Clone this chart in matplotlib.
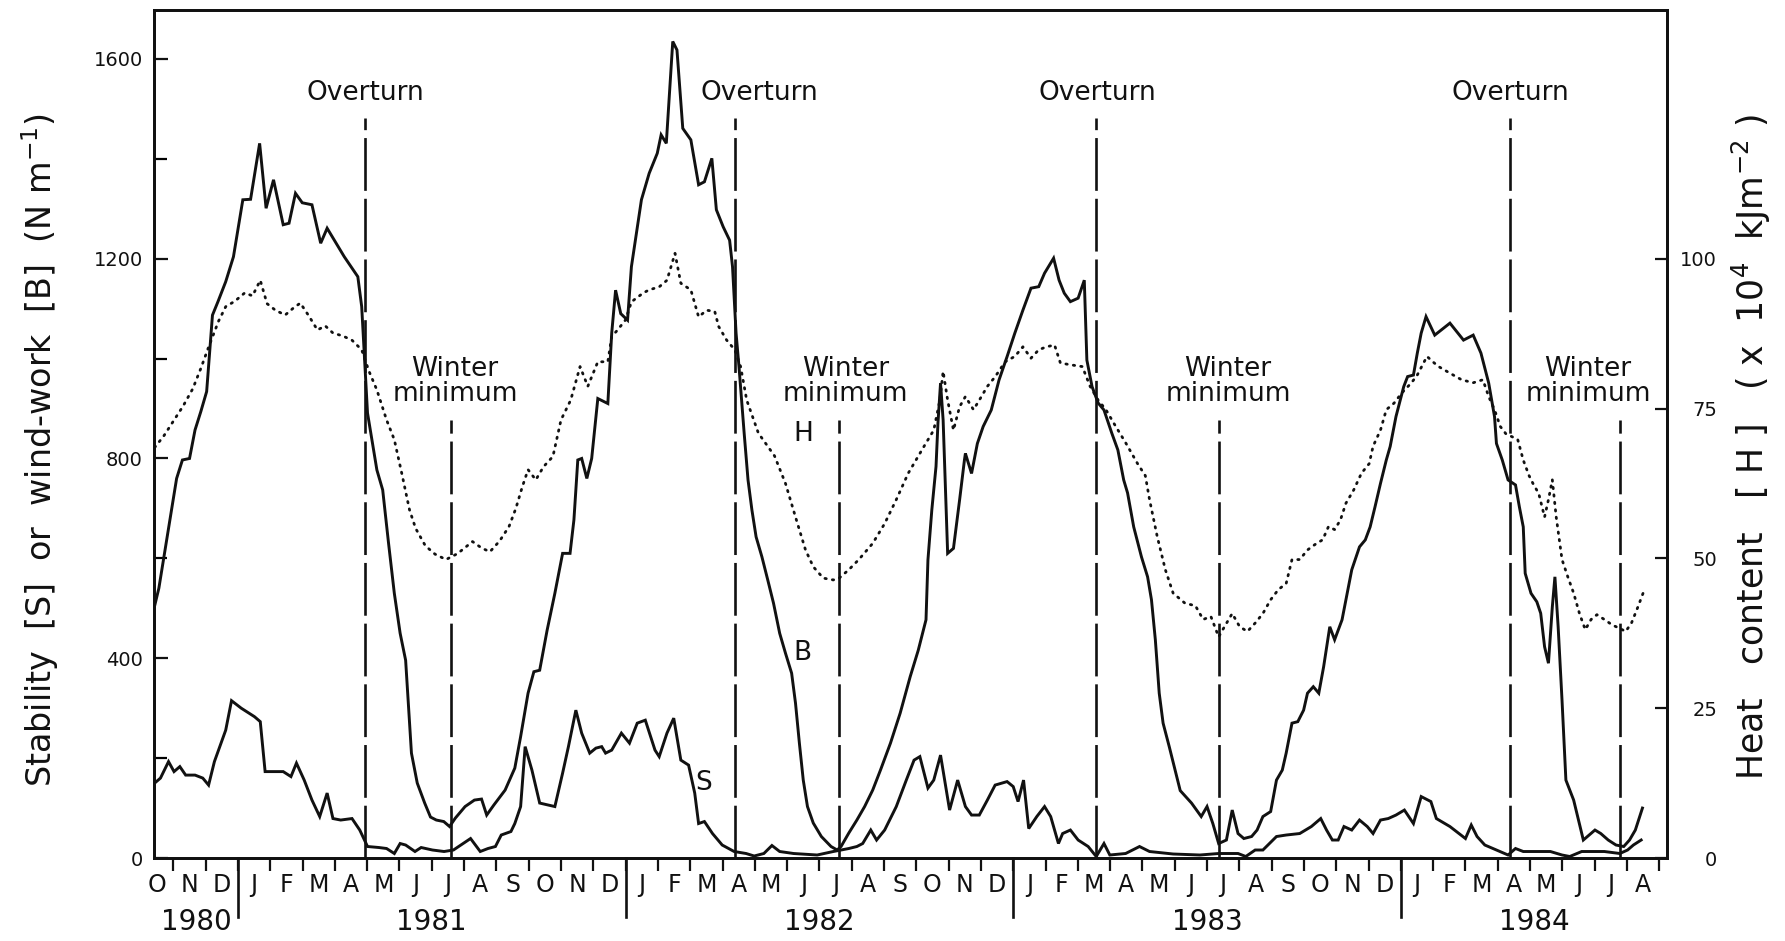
import numpy as np
import matplotlib.pyplot as plt
import matplotlib.transforms as mtransforms
from matplotlib.ticker import FixedLocator

plt.rcParams['font.family'] = ['DejaVu Sans']
plt.rcParams['mathtext.default'] = 'regular'

INK = '#111111'

# time is in months since 1 October 1980
b_t = [0.42, 0.55, 0.70, 0.90, 1.10, 1.28, 1.50, 1.67, 1.85, 2.03, 2.21, 2.38, 2.62, 2.86,
       3.15, 3.39, 3.67, 3.87, 4.10, 4.40, 4.58, 4.78, 4.99, 5.29, 5.56, 5.76, 6.29, 6.71,
       6.83, 7.01, 7.30, 7.48, 7.66, 7.84, 8.02, 8.19, 8.37, 8.55, 8.78, 8.96, 9.14, 9.37,
       9.55, 9.73, 10.03, 10.32, 10.54, 10.70, 10.92, 11.27, 11.57, 11.75, 11.98, 12.16,
       12.34, 12.57, 12.81, 13.05, 13.28, 13.40, 13.52, 13.64, 13.80, 13.95, 14.14, 14.45,
       14.57, 14.69, 14.85, 15.06, 15.18, 15.49, 15.73, 15.98, 16.10, 16.26, 16.46, 16.59,
       16.77, 17.02, 17.26, 17.44, 17.67, 17.81, 18.02, 18.22, 18.31, 18.42, 18.51, 18.67,
       18.79, 18.91, 19.04, 19.22, 19.40, 19.58, 19.77, 19.95, 20.14, 20.26, 20.38, 20.50,
       20.63, 20.81, 21.06, 21.36, 21.55, 21.67, 21.91, 22.16, 22.40, 22.65, 22.89, 23.20,
       23.50, 23.81, 24.06, 24.30, 24.36, 24.48, 24.61, 24.67, 24.75, 24.83, 24.97, 25.15,
       25.34, 25.49, 25.52, 25.71, 25.89, 26.07, 26.32, 26.56, 26.81, 27.05, 27.30, 27.55,
       27.79, 27.97, 28.25, 28.42, 28.58, 28.77, 29.01, 29.20, 29.28, 29.44, 29.63, 29.81,
       30.05, 30.24, 30.42, 30.54, 30.73, 30.97, 31.16, 31.28, 31.40, 31.52, 31.64, 31.83,
       32.01, 32.17, 32.52, 32.82, 33.00, 33.18, 33.36, 33.60, 33.78, 33.96, 34.14, 34.38,
       34.55, 34.73, 34.97, 35.15, 35.33, 35.45, 35.63, 35.81, 35.99, 36.11, 36.29, 36.46,
       36.61, 36.80, 36.95, 37.18, 37.30, 37.48, 37.72, 37.90, 38.05, 38.20, 38.37, 38.55,
       38.67, 38.85, 39.09, 39.21, 39.39, 39.51, 39.63, 39.78, 40.05, 40.52, 40.94, 41.24,
       41.48, 41.72, 41.90, 41.96, 42.14, 42.32, 42.55, 42.67, 42.79, 42.85, 43.03, 43.21,
       43.33, 43.45, 43.57, 43.69, 43.77, 43.87, 43.99, 44.11, 44.35, 44.65, 45.01, 45.19,
       45.42, 45.66, 45.90, 46.08, 46.26, 46.48]
b_val = [505, 540, 600, 680, 760, 797, 800, 857, 894, 934, 1087, 1114, 1154, 1204,
         1318, 1319, 1431, 1301, 1358, 1268, 1271, 1331, 1312, 1308, 1231, 1261, 1204, 1164,
         1104, 891, 777, 737, 631, 530, 450, 396, 210, 150, 110, 82, 76, 73,
         63, 80, 103, 116, 118, 86, 106, 136, 180, 243, 330, 373,
         376, 456, 530, 610, 610, 677, 797, 800, 760, 800, 920, 910,
         1051, 1137, 1090, 1077, 1184, 1318, 1371, 1411, 1448, 1431, 1635, 1618,
         1461, 1438, 1348, 1354, 1401, 1298, 1264, 1237, 1184, 1051, 984, 851,
         757, 697, 643, 603, 557, 510, 450, 410, 370, 310, 230, 156,
         103, 70, 43, 23, 16, 23, 50, 76, 103, 136, 176, 230,
         290, 363, 416, 477, 597, 697, 784, 871, 951, 877, 610, 620,
         717, 797, 810, 770, 830, 864, 897, 957, 1004, 1051, 1097, 1141,
         1144, 1171, 1201, 1157, 1131, 1114, 1121, 1157, 997, 944, 911, 897,
         851, 817, 757, 731, 663, 603, 563, 517, 437, 330, 270, 223,
         176, 135, 110, 83, 103, 69, 29, 36, 96, 49, 39, 43,
         56, 83, 93, 156, 176, 210, 270, 273, 296, 330, 343, 330,
         383, 463, 437, 477, 517, 577, 623, 637, 663, 703, 750, 797,
         824, 884, 944, 964, 967, 1011, 1051, 1084, 1047, 1071, 1037, 1047,
         1011, 951, 884, 830, 797, 757, 747, 703, 663, 570, 530, 513,
         490, 423, 390, 503, 563, 463, 316, 156, 116, 36, 56, 49,
         36, 26, 23, 36, 56, 100]

s_t = [0.42, 0.60, 0.85, 1.02, 1.20, 1.38, 1.67, 1.91, 2.09, 2.27, 2.62, 2.80, 3.10, 3.51,
       3.69, 3.84, 4.16, 4.40, 4.64, 4.81, 5.05, 5.29, 5.53, 5.76, 5.94, 6.18, 6.53, 6.77,
       7.01, 7.36, 7.60, 7.84, 8.02, 8.19, 8.48, 8.67, 9.02, 9.38, 9.67, 9.97, 10.20, 10.50,
       10.74, 10.97, 11.15, 11.45, 11.57, 11.75, 11.89, 12.10, 12.34, 12.81, 13.05, 13.23,
       13.46, 13.64, 13.89, 14.08, 14.26, 14.38, 14.57, 14.87, 15.12, 15.36, 15.61, 15.91,
       16.04, 16.28, 16.49, 16.71, 16.95, 17.14, 17.26, 17.44, 17.69, 17.99, 18.36, 18.73,
       18.98, 19.28, 19.53, 19.77, 20.20, 20.93, 21.43, 21.91, 22.16, 22.34, 22.59, 22.77,
       23.02, 23.38, 23.69, 23.93, 24.11, 24.36, 24.54, 24.75, 25.03, 25.28, 25.52, 25.71,
       25.95, 26.20, 26.44, 26.81, 27.00, 27.15, 27.32, 27.48, 27.73, 27.97, 28.16, 28.40,
       28.53, 28.77, 29.01, 29.32, 29.57, 29.81, 29.99, 30.48, 30.91, 31.22, 31.95, 32.78,
       33.36, 33.96, 34.20, 34.49, 34.73, 35.15, 35.45, 35.87, 36.23, 36.52, 36.70, 36.88,
       37.06, 37.24, 37.48, 37.72, 37.96, 38.14, 38.37, 38.61, 38.85, 39.11, 39.39, 39.63,
       39.93, 40.10, 40.52, 41.00, 41.18, 41.36, 41.60, 41.96, 42.32, 42.55, 42.79, 43.63,
       43.99, 44.23, 44.60, 45.30, 45.78, 46.02, 46.20, 46.44]
s_val = [150, 160, 193, 173, 183, 166, 166, 160, 146, 193, 256, 315, 300, 283,
         273, 173, 173, 173, 163, 190, 156, 116, 83, 130, 79, 76, 79, 56,
         23, 21, 19, 9, 29, 26, 13, 21, 16, 13, 16, 29, 39, 13,
         19, 23, 46, 53, 69, 103, 223, 176, 110, 103, 170, 223,
         296, 250, 210, 220, 223, 210, 216, 250, 230, 270, 276, 216,
         203, 250, 280, 196, 186, 130, 69, 73, 49, 26, 13, 9,
         4, 9, 25, 13, 9, 6, 13, 19, 23, 29, 56, 36,
         56, 103, 156, 196, 203, 140, 156, 206, 96, 156, 103, 86,
         86, 116, 146, 153, 143, 113, 156, 59, 83, 103, 83, 29,
         49, 56, 36, 23, 3, 29, 6, 9, 23, 13, 8, 6,
         9, 9, 3, 16, 16, 43, 46, 49, 63, 79, 56, 36,
         36, 63, 56, 76, 63, 49, 76, 79, 86, 96, 69, 123,
         113, 79, 63, 39, 66, 43, 26, 16, 6, 19, 13, 13,
         6, 3, 13, 13, 9, 16, 26, 36]

h_t = [0.42, 0.70, 1.00, 1.30, 1.60, 1.85, 2.10, 2.40, 2.62, 2.90, 3.21, 3.45, 3.69, 3.90,
       4.16, 4.46, 4.70, 4.93, 5.20, 5.46, 5.70, 5.94, 6.25, 6.53, 6.83, 7.05, 7.30, 7.60,
       7.84, 8.07, 8.31, 8.50, 8.80, 9.10, 9.44, 9.80, 10.26, 10.55, 10.80, 11.10, 11.39,
       11.60, 11.80, 11.98, 12.22, 12.46, 12.75, 13.00, 13.30, 13.59, 13.83, 14.14, 14.45,
       14.57, 14.75, 15.00, 15.18, 15.55, 15.73, 16.04, 16.28, 16.53, 16.71, 17.02, 17.26,
       17.51, 17.76, 17.88, 18.13, 18.38, 18.56, 18.75, 19.11, 19.61, 19.95, 20.26, 20.57,
       20.81, 21.12, 21.43, 21.61, 21.91, 22.22, 22.65, 23.02, 23.38, 23.75, 24.24, 24.54,
       24.73, 24.83, 24.97, 25.15, 25.34, 25.52, 25.77, 25.95, 26.20, 26.44, 26.75, 27.05,
       27.30, 27.55, 27.79, 28.03, 28.28, 28.46, 28.77, 29.14, 29.38, 29.63, 29.87, 30.12,
       30.49, 30.85, 31.09, 31.22, 31.46, 31.71, 31.95, 32.32, 32.64, 32.88, 33.12, 33.36,
       33.54, 33.78, 34.01, 34.25, 34.49, 34.73, 34.97, 35.21, 35.45, 35.63, 35.87, 36.11,
       36.34, 36.58, 36.76, 36.95, 37.13, 37.30, 37.54, 37.78, 38.02, 38.14, 38.37, 38.55,
       38.79, 39.03, 39.33, 39.51, 39.81, 39.99, 40.17, 40.52, 40.88, 41.24, 41.54, 41.72,
       41.90, 42.08, 42.25, 42.44, 42.62, 42.79, 42.97, 43.09, 43.27, 43.45, 43.57, 43.69,
       43.81, 43.99, 44.17, 44.35, 44.53, 44.71, 44.89, 45.07, 45.30, 45.54, 45.78, 45.96,
       46.14, 46.34, 46.50]
# heat content, x 10^4 kJ m^-2
h_val = [68.5, 70.4, 72.9, 75.4, 78.3, 81.7, 85.4, 89.6, 92.0, 92.9, 94.3, 93.8, 96.4, 92.5,
         91.4, 90.6, 91.7, 92.6, 90.4, 88.1, 88.8, 87.6, 87.1, 86.4, 84.8, 81.3, 78.1, 73.1,
         69.8, 64.2, 58.1, 55.0, 52.1, 50.7, 49.8, 50.8, 52.8, 51.7, 51.1, 52.9, 55.3,
         58.3, 61.9, 64.8, 63.1, 65.3, 67.0, 73.1, 76.4, 82.0, 78.7, 82.8, 82.8,
         87.0, 88.1, 89.8, 92.8, 94.3, 94.8, 95.3, 96.4, 100.9, 95.9, 94.8, 90.3,
         91.4, 91.2, 88.7, 86.4, 84.8, 82.0, 76.4, 70.9, 67.1, 62.5, 56.9, 51.4,
         48.6, 46.7, 46.4, 46.7, 48.1, 49.8, 52.5, 55.8, 59.8, 64.2, 68.7, 71.4,
         76.4, 81.2, 76.4, 71.4, 75.3, 77.0, 74.8, 76.4, 78.7, 80.3, 82.8, 83.7,
         85.3, 83.4, 84.8, 85.3, 85.6, 82.6, 82.3, 82.0, 78.7, 76.4, 74.8, 72.5,
         69.2, 65.8, 63.8, 59.8, 53.6, 48.1, 44.2, 42.5, 42.1, 39.8, 40.3, 36.9,
         38.6, 40.8, 38.6, 37.8, 39.2, 40.8, 43.1, 44.8, 45.8, 49.8, 49.8, 51.4,
         52.3, 53.1, 55.3, 54.8, 56.4, 59.2, 61.4, 64.2, 65.8, 68.7, 71.4, 74.8,
         75.9, 77.6, 79.3, 80.6, 83.7, 82.8, 82.0, 80.9, 79.8, 79.3, 79.8, 77.0,
         74.8, 72.0, 70.8, 70.3, 69.8, 66.4, 63.8, 62.5, 60.8, 56.9, 59.8, 63.1,
         56.9, 49.8, 46.9, 44.2, 40.8, 38.1, 39.8, 40.6, 39.8, 38.9, 38.3, 37.8,
         39.2, 41.9, 44.2]

overturn_t = [6.93, 18.38, 29.56, 42.38]
winter_min_t = [9.61, 21.60, 33.36, 45.78]
month_letters = list('OND' + 'JFMAMJJASOND' * 3 + 'JFMAMJJA')
years = ['1980', '1981', '1982', '1983', '1984']

X0, X1 = 0.40, 47.24
YTOP = 1698.0

fig = plt.figure(figsize=(17.85, 9.41), dpi=100)
ax = fig.add_axes([154 / 1785, 1 - 858 / 941, (1667 - 154) / 1785, (858 - 10) / 941])
ax.set_xlim(X0, X1)
ax.set_ylim(0, YTOP)

ax.plot(b_t, b_val, color=INK, lw=2.1, solid_joinstyle='miter')
ax.plot(s_t, s_val, color=INK, lw=2.1, solid_joinstyle='miter')

ax2 = ax.twinx()
ax2.set_ylim(0, YTOP / 12)
ax2.plot(h_t, h_val, color=INK, lw=2.0, linestyle=(0, (0.5, 2.2)), dash_capstyle='round')

# overturn and winter-minimum markers
for t in overturn_t:
    ax.plot([t, t], [0, 1482], color=INK, lw=1.9, dashes=(20, 3))
for t in winter_min_t:
    ax.plot([t, t], [0, 877], color=INK, lw=1.9, dashes=(20, 3))

txt = dict(ha='center', va='center', fontsize=19, color=INK)
for t in [6.95, 19.13, 29.59, 42.38]:
    ax.text(t, 1532, 'Overturn', **txt)
for t in [9.72, 21.80, 33.65, 44.80]:
    ax.text(t, 955, 'Winter\nminimum', linespacing=0.95, **txt)
ax.text(20.49, 850, 'H', **txt)
ax.text(20.49, 410, 'B', **txt)
ax.text(17.41, 150, 'S', **txt)

for a in (ax, ax2):
    for sp in a.spines.values():
        sp.set_linewidth(2.0)
        sp.set_color(INK)

# left axis
ax.yaxis.set_major_locator(FixedLocator([0, 400, 800, 1200, 1600]))
ax.yaxis.set_minor_locator(FixedLocator([200, 600, 1000, 1400]))
ax.tick_params(axis='y', which='major', direction='in', length=10, width=1.6,
               pad=8, labelsize=14, colors=INK)
ax.tick_params(axis='y', which='minor', direction='in', length=9, width=1.6)

# right axis
ax2.yaxis.set_major_locator(FixedLocator([0, 25, 50, 75, 100]))
ax2.tick_params(axis='y', direction='in', length=9, width=1.6, pad=36,
                labelsize=14, colors=INK)
for lab in ax2.get_yticklabels():
    lab.set_ha('right')

# month boundaries along the bottom
bounds = np.arange(1, 48)
ax.xaxis.set_major_locator(FixedLocator(bounds))
ax.xaxis.set_minor_locator(FixedLocator([]))
ax.tick_params(axis='x', which='major', direction='out', length=9, width=1.6,
               labelbottom=False, colors=INK)

trans = mtransforms.blended_transform_factory(ax.transData, ax.transAxes)
for i, letter in enumerate(month_letters):
    ax.text(i + 0.5, -0.032, letter, transform=trans, ha='center', va='center',
            fontsize=17, color=INK)

year_starts = [3, 15, 27, 39]
for t in year_starts:
    ax.plot([t, t], [0, -0.07], transform=trans, color=INK, lw=1.9, clip_on=False)
edges = [X0] + year_starts + [X1]
for k, yr in enumerate(years):
    ax.text((edges[k] + edges[k + 1]) / 2, -0.0755, yr, transform=trans, ha='center',
            va='center', fontsize=20, color=INK)

fig.text(40 / 1785, 1 - 450 / 941, 'Stability  [S]  or  wind-work  [B]  (N m$^{-1}$)',
         rotation=90, ha='center', va='center', fontsize=24, color=INK)
fig.text(1751 / 1785, 1 - 447 / 941,
         'Heat   content   [ H ]   ( x  10$^{4}$  kJm$^{-2}$ )',
         rotation=90, ha='center', va='center', fontsize=25, color=INK)

fig.savefig('out.png', dpi=100, facecolor='white')
